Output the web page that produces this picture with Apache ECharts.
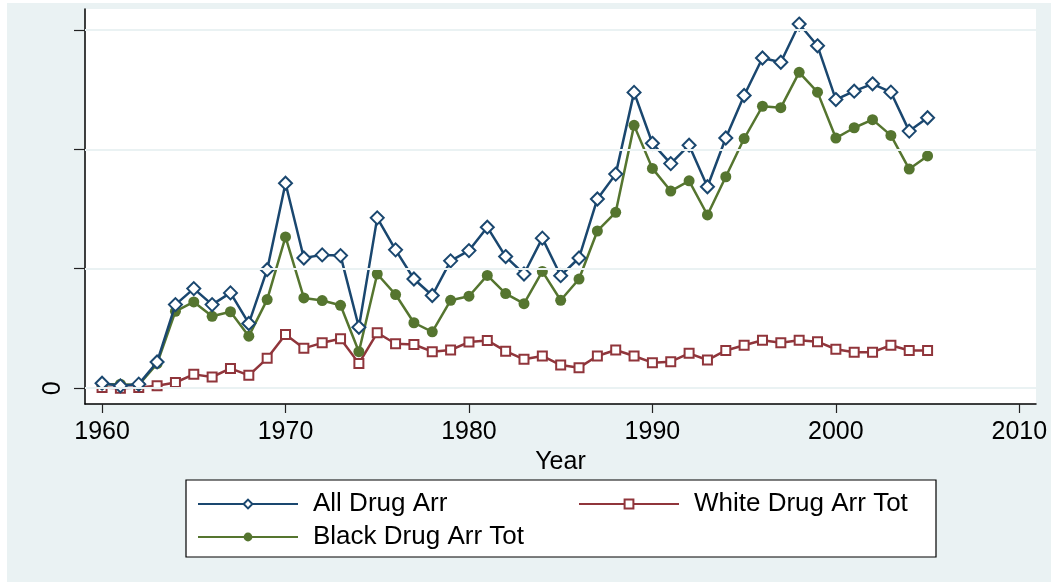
<!DOCTYPE html>
<html>
<head>
<meta charset="utf-8">
<style>
  html, body { margin: 0; padding: 0; background: #ffffff; }
  #chart { width: 1051px; height: 582px; }
</style>
<script src="https://cdn.jsdelivr.net/npm/echarts@6/dist/echarts.min.js"></script>
</head>
<body>
<div id="chart"></div>
<script>
// Drug arrests (thousands), by year
const years = [
  1960, 1961, 1962, 1963, 1964, 1965, 1966, 1967, 1968, 1969,
  1970, 1971, 1972, 1973, 1974, 1975, 1976, 1977, 1978, 1979,
  1980, 1981, 1982, 1983, 1984, 1985, 1986, 1987, 1988, 1989,
  1990, 1991, 1992, 1993, 1994, 1995, 1996, 1997, 1998, 1999,
  2000, 2001, 2002, 2003, 2004, 2005
];
const allDrugArr = [
  21, 10, 17, 110, 350, 417, 350, 399, 271, 496,
  858, 545, 558, 555, 255, 713, 579, 457, 388, 533,
  576, 674, 551, 478, 628, 471, 545, 792, 896, 1238,
  1025, 940, 1017, 843, 1047, 1225, 1382, 1364, 1524, 1433,
  1208, 1243, 1274, 1239, 1076, 1132
];
const whiteDrugArrTot = [
  3, 0, 3, 10, 24, 58, 47, 83, 54, 125,
  225, 167, 190, 207, 104, 232, 186, 183, 153, 160,
  193, 200, 155, 121, 135, 97, 86, 135, 160, 135,
  107, 111, 146, 118, 158, 180, 201, 190, 201, 195,
  163, 151, 151, 180, 158, 158
];
const blackDrugArrTot = [
  17, 17, 14, 103, 322, 361, 301, 320, 218, 371,
  633, 378, 367, 347, 153, 478, 392, 274, 236, 368,
  385, 472, 396, 354, 489, 368, 457, 658, 736, 1100,
  920, 825, 868, 725, 885, 1045, 1180, 1174, 1322, 1239,
  1047, 1090, 1124, 1058, 917, 972
];
const xTicks = [1960, 1970, 1980, 1990, 2000, 2010];
const yTicks = [0, 500, 1000, 1500];
const yLabels = [0];

const pair = (vals) => years.map((y, i) => [y, vals[i]]);

const NAVY = '#1a476f';
const MAROON = '#90353b';
const GREEN = '#55752f';
const BLUISH = '#eaf2f3';
const FONT = 'Liberation Sans, Arial, sans-serif';

const chart = echarts.init(document.getElementById('chart'), null, { renderer: 'canvas' });

chart.setOption({
  backgroundColor: '#ffffff',
  animation: false,
  graphic: [
    { type: 'rect', z: -10, shape: { x: 7, y: 3, width: 1044, height: 579 }, style: { fill: BLUISH } },
    { type: 'rect', z: 0, shape: { x: 186, y: 480, width: 750, height: 77 },
      style: { fill: '#ffffff', stroke: '#000000', lineWidth: 1.2 } }
  ],
  grid: {
    left: 85, top: 9, right: 15, bottom: 178,
    show: true, backgroundColor: '#ffffff', borderWidth: 0
  },
  legend: [
    {
      data: ['All Drug Arr', 'Black Drug Arr Tot'],
      orient: 'vertical', left: 197, top: 491, padding: 0,
      itemWidth: 100, itemHeight: 11, itemGap: 7, z: 10,
      textStyle: { fontFamily: FONT, fontSize: 26, color: '#000', lineHeight: 26, padding: [0, 0, 0, 10] }
    },
    {
      data: ['White Drug Arr Tot'],
      orient: 'vertical', left: 578, top: 491, padding: 0,
      itemWidth: 100, itemHeight: 11, z: 10,
      textStyle: { fontFamily: FONT, fontSize: 26, color: '#000', lineHeight: 26, padding: [0, 0, 0, 10] }
    }
  ],
  xAxis: {
    type: 'value',
    min: 1959.07, max: 2010.91,
    name: 'Year', nameLocation: 'middle', nameGap: 41,
    nameTextStyle: { fontFamily: FONT, fontSize: 25, color: '#000' },
    axisLine: { show: true, onZero: false, lineStyle: { color: '#000', width: 1.5 } },
    axisTick: { show: true, length: 9, customValues: xTicks, lineStyle: { color: '#222', width: 1.2 } },
    axisLabel: {
      customValues: xTicks, margin: 16, fontFamily: FONT, fontSize: 25, color: '#000',
      formatter: (v) => String(v)
    },
    splitLine: { show: false }
  },
  yAxis: {
    type: 'value',
    min: -66, max: 1587,
    axisLine: { show: true, onZero: false, lineStyle: { color: '#000', width: 1.5 } },
    axisTick: { show: true, length: 11, customValues: yTicks, lineStyle: { color: '#222', width: 1.2 } },
    axisLabel: {
      customValues: yLabels, rotate: 90, margin: 19, fontFamily: FONT, fontSize: 25, color: '#000',
      formatter: (v) => String(v)
    },
    splitLine: { show: false }
  },
  series: [
    {
      // horizontal grid rules at each y tick
      type: 'line', name: 'grid', data: [], z: 1, silent: true,
      markLine: {
        silent: true, symbol: ['none', 'none'], label: { show: false },
        lineStyle: { color: BLUISH, width: 2, type: 'solid' },
        data: yTicks.map(v => ({ yAxis: v }))
      }
    },
    {
      type: 'line', name: 'All Drug Arr', data: pair(allDrugArr), z: 4,
      symbol: 'emptyDiamond', symbolSize: 13,
      lineStyle: { color: NAVY, width: 2.5 },
      itemStyle: { color: NAVY, borderColor: NAVY, borderWidth: 2.5 }
    },
    {
      type: 'line', name: 'White Drug Arr Tot', data: pair(whiteDrugArrTot), z: 3,
      symbol: 'emptyRect', symbolSize: 9,
      lineStyle: { color: MAROON, width: 2.5 },
      itemStyle: { color: MAROON, borderColor: MAROON, borderWidth: 2.2 }
    },
    {
      type: 'line', name: 'Black Drug Arr Tot', data: pair(blackDrugArrTot), z: 3,
      symbol: 'circle', symbolSize: 11,
      lineStyle: { color: GREEN, width: 2.5 },
      itemStyle: { color: GREEN }
    }
  ]
});
</script>
</body>
</html>
